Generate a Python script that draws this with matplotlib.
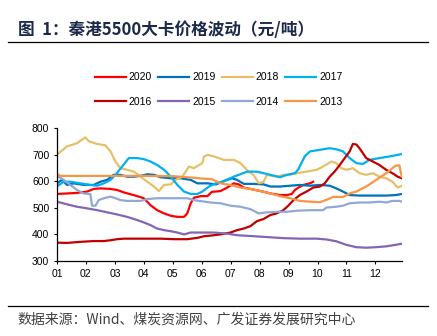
import matplotlib
matplotlib.use("Agg")
import matplotlib.pyplot as plt

# x positions are in months from 01 (0 = start of Jan), values in yuan/ton
X_2020 = [0, 0.35, 0.69, 1.04, 1.27, 1.50, 1.85, 2.08, 2.31, 2.54, 2.77, 3.0, 3.23, 3.46,
          3.70, 3.93, 4.16, 4.39, 4.50, 4.62, 4.73, 4.97, 5.20, 5.35, 5.65, 5.88, 6.11,
          6.28, 6.45, 6.68, 7.03, 7.37, 7.71, 7.94, 8.11, 8.22, 8.34, 8.51, 8.74, 8.85]
Y_2020 = [552, 554, 556, 561, 571, 573, 571, 567, 558, 551, 544, 536, 510, 491,
          479, 470, 466, 466, 479, 517, 538, 544, 544, 560, 563, 576, 592,
          588, 576, 571, 563, 554, 548, 548, 552, 567, 576, 586, 592, 598]

X_2019 = [0, 0.17, 0.35, 0.58, 0.92, 1.27, 1.50, 1.73, 1.96, 2.19, 2.42, 2.66, 2.89, 3.12,
          3.35, 3.58, 3.93, 4.27, 4.62, 4.85, 5.20, 5.49, 5.88, 6.05, 6.22, 6.45, 6.79,
          7.14, 7.37, 7.71, 8.05, 8.39, 8.74, 9.08, 9.42, 9.65, 9.88, 10.11, 10.45,
          10.91, 11.37, 11.71, 11.91]
Y_2019 = [592, 605, 586, 592, 586, 586, 598, 605, 624, 624, 617, 617, 620, 626,
          624, 615, 611, 611, 605, 592, 592, 588, 605, 611, 605, 590, 590,
          588, 580, 580, 583, 586, 583, 586, 583, 573, 561, 548, 546,
          546, 546, 548, 552]

X_2018 = [0, 0.35, 0.69, 0.98, 1.10, 1.39, 1.67, 1.85, 2.02, 2.19, 2.42, 2.66, 2.89, 3.12,
          3.35, 3.52, 3.70, 3.93, 4.10, 4.33, 4.56, 4.73, 4.91, 5.02, 5.08, 5.20, 5.43,
          5.77, 6.11, 6.34, 6.62, 6.79, 6.97, 7.14, 7.25, 7.59, 7.82, 8.05, 8.28, 8.62,
          8.97, 9.19, 9.48, 9.65, 9.82, 10.0, 10.22, 10.45, 10.68, 10.91, 11.14, 11.37,
          11.59, 11.77, 11.91]
Y_2018 = [700, 731, 743, 765, 750, 740, 735, 712, 674, 649, 643, 636, 617, 598,
          580, 563, 586, 588, 605, 617, 655, 649, 661, 668, 693, 699, 693,
          680, 680, 668, 636, 624, 592, 598, 624, 617, 624, 624, 630, 636,
          643, 655, 674, 668, 649, 643, 649, 630, 624, 630, 617, 611,
          598, 576, 583]

X_2017 = [0, 0.23, 0.46, 0.81, 1.15, 1.39, 1.62, 1.85, 2.02, 2.25, 2.48, 2.77, 3.0, 3.23,
          3.46, 3.70, 3.93, 4.16, 4.39, 4.62, 4.85, 5.02, 5.25, 5.49, 5.70, 6.11, 6.57,
          6.91, 7.37, 7.71, 7.94, 8.22, 8.34, 8.45, 8.57, 8.74, 9.08, 9.42, 9.65, 9.88,
          10.11, 10.34, 10.57, 10.79, 11.14, 11.48, 11.91]
Y_2017 = [580, 598, 598, 592, 586, 583, 592, 605, 624, 655, 687, 687, 683, 674,
          661, 643, 617, 586, 561, 552, 552, 561, 580, 592, 598, 617, 636,
          636, 624, 615, 624, 630, 645, 670, 695, 712, 718, 724, 720, 712,
          687, 668, 665, 680, 687, 693, 702]

X_2016 = [0, 0.35, 0.81, 1.27, 1.62, 1.85, 2.08, 2.31, 2.66, 3.12, 3.58, 4.04, 4.50, 4.85,
          5.08, 5.43, 5.65, 5.99, 6.22, 6.45, 6.68, 6.91, 7.14, 7.37, 7.59, 7.82, 7.99,
          8.17, 8.39, 8.62, 8.85, 9.08, 9.25, 9.42, 9.59, 9.77, 9.94, 10.11, 10.22,
          10.34, 10.45, 10.57, 10.68, 10.91, 11.14, 11.37, 11.59, 11.77, 11.91]
Y_2016 = [369, 368, 372, 375, 375, 378, 382, 384, 384, 384, 384, 382, 382, 387,
          393, 397, 400, 407, 416, 422, 431, 450, 458, 473, 479, 491, 508,
          529, 548, 561, 576, 580, 592, 617, 636, 661, 687, 712, 740,
          738, 724, 705, 687, 674, 661, 643, 630, 617, 611]

X_2015 = [0, 0.35, 0.69, 1.04, 1.39, 1.73, 2.08, 2.42, 2.77, 3.0, 3.23, 3.46, 3.70, 3.93,
          4.16, 4.39, 4.62, 4.97, 5.42, 5.88, 6.22, 6.68, 7.25, 7.82, 8.39, 8.97, 9.31,
          9.65, 9.99, 10.34, 10.68, 11.03, 11.37, 11.71, 11.91]
Y_2015 = [523, 513, 504, 498, 491, 483, 475, 466, 454, 445, 435, 422, 416, 412,
          407, 400, 407, 407, 407, 403, 397, 394, 390, 386, 384, 384, 381,
          374, 361, 352, 350, 352, 355, 361, 365]

X_2014 = [0, 0.23, 0.46, 0.69, 0.92, 1.15, 1.21, 1.33, 1.44, 1.62, 1.85, 2.02, 2.19, 2.42,
          2.89, 3.12, 3.46, 4.04, 4.50, 4.73, 4.97, 5.31, 5.65, 5.99, 6.34, 6.68, 6.97,
          7.25, 7.59, 7.94, 8.28, 8.74, 9.19, 9.31, 9.65, 9.88, 10.11, 10.45, 10.79,
          11.14, 11.37, 11.59, 11.83, 11.91]
Y_2014 = [621, 605, 586, 567, 554, 552, 508, 508, 529, 536, 542, 536, 529, 526,
          526, 533, 536, 536, 536, 529, 525, 520, 517, 508, 504, 495, 479,
          483, 485, 485, 489, 491, 491, 501, 504, 508, 517, 520, 520,
          523, 520, 526, 526, 523]

X_2013 = [0, 0.12, 1.0, 2.0, 3.0, 4.0, 4.85, 5.0, 5.34, 5.65, 5.99, 6.34, 6.68, 7.03,
          7.37, 7.71, 8.05, 8.39, 8.74, 9.08, 9.31, 9.54, 9.88, 10.11, 10.34, 10.68,
          11.03, 11.37, 11.71, 11.83, 11.91]
Y_2013 = [627, 620, 620, 620, 620, 619, 612, 610, 608, 592, 586, 576, 571, 563,
          554, 544, 536, 526, 523, 521, 530, 541, 541, 554, 561, 580,
          605, 630, 659, 659, 617]

SERIES = [
    ("2020", X_2020, Y_2020, "#FF0000"),
    ("2019", X_2019, Y_2019, "#0070C0"),
    ("2018", X_2018, Y_2018, "#E6C068"),
    ("2017", X_2017, Y_2017, "#00B0F0"),
    ("2016", X_2016, Y_2016, "#C00000"),
    ("2015", X_2015, Y_2015, "#8464B4"),
    ("2014", X_2014, Y_2014, "#91A8D4"),
    ("2013", X_2013, Y_2013, "#F79646"),
]

MONTH_LABELS = ["01", "02", "03", "04", "05", "06", "07", "08", "09", "10", "11", "12"]
Y_TICKS = [300, 400, 500, 600, 700, 800]

TITLE = "图  1：秦港5500大卡价格波动（元/吨）"
SOURCE = "数据来源：Wind、煤炭资源网、广发证券发展研究中心"

CJK = ["Noto Sans CJK SC", "DejaVu Sans"]
plt.rcParams["font.family"] = ["Liberation Sans", "DejaVu Sans"]

fig = plt.figure(figsize=(4.37, 3.36), dpi=100)
ax = fig.add_axes([0.1304, 0.2232, 0.7896, 0.3958])

lines = []
for label, xs, ys, color in SERIES:
    line, = ax.plot(xs, ys, color=color, lw=1.6, label=label, solid_joinstyle="round")
    lines.append(line)

ax.set_xlim(0, 11.92)
ax.set_ylim(300, 800)
ax.set_xticks(range(len(MONTH_LABELS)))
ax.set_xticklabels(MONTH_LABELS)
ax.set_yticks(Y_TICKS)
ax.tick_params(labelsize=7.5, length=2.5, width=0.8, pad=3, colors="black")
for side in ("top", "right"):
    ax.spines[side].set_visible(False)
for side in ("left", "bottom"):
    ax.spines[side].set_linewidth(0.9)

# legend fills column-wise, so interleave to get two rows of four
order = [0, 4, 1, 5, 2, 6, 3, 7]
fig.legend([lines[i] for i in order], [lines[i].get_label() for i in order],
           loc="center", bbox_to_anchor=(0.5, 0.7336), ncol=4, frameon=False,
           fontsize=7.5, handlelength=3.0, handletextpad=0.25, columnspacing=0.6,
           labelspacing=1.35)

# title, rules and source note
fig.text(18 / 437, 1 - 30 / 336, TITLE, family=CJK, fontsize=12, fontweight="bold",
         color="#1B2A4A", va="center", ha="left")
fig.add_artist(plt.Line2D([8 / 437, 428 / 437], [1 - 42.3 / 336] * 2,
                          color="black", lw=0.9))
fig.add_artist(plt.Line2D([8 / 437, 428 / 437], [1 - 306 / 336] * 2,
                          color="black", lw=0.9))
fig.text(17 / 437, 1 - 320 / 336, SOURCE, family=CJK, fontsize=10,
         color="#404040", va="center", ha="left")

fig.savefig("out.png", dpi=100)
